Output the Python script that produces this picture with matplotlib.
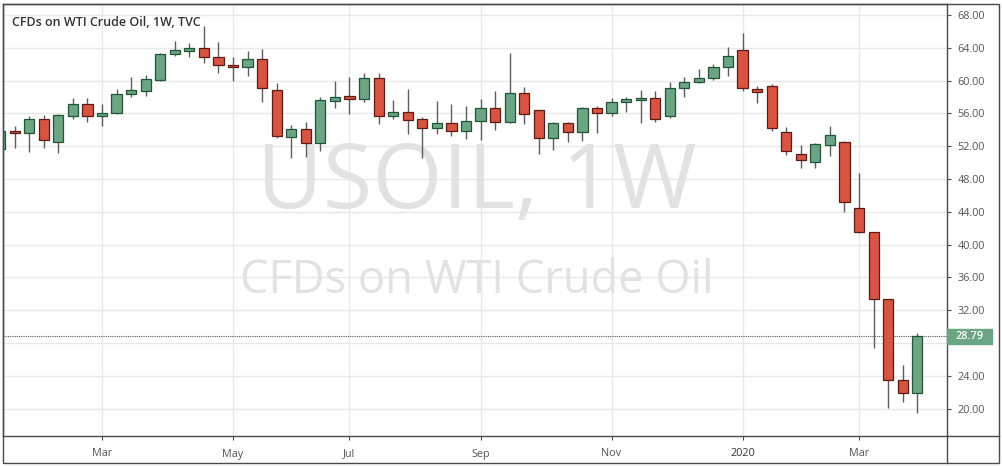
import numpy as np
import matplotlib
matplotlib.use("Agg")
import matplotlib.pyplot as plt
from matplotlib.patches import Rectangle
from matplotlib.lines import Line2D

# weekly USOIL candles, Jan 14 2019 .. Mar 30 2020
opens = [51.6, 53.8, 53.6, 55.3, 52.55, 55.7, 57.1, 55.72, 56.0, 58.33,
         58.77, 60.1, 63.2, 63.65, 63.94, 62.84, 61.9, 61.62, 62.6, 58.85,
         53.15, 54.1, 52.42, 57.55, 58.08, 57.72, 60.28, 55.72, 56.13, 55.31,
         54.18, 54.78, 53.8, 55.03, 56.62, 54.9, 58.45, 56.37, 52.96, 54.78,
         53.68, 56.62, 56.0, 57.35, 57.6, 57.84, 55.72, 59.06, 59.79, 60.28,
         61.62, 63.73, 58.97, 59.34, 53.68, 51.04, 50.1, 52.2, 52.47, 44.42,
         41.49, 33.36, 23.44, 21.85]
highs = [54.0, 54.4, 55.7, 55.8, 55.9, 57.9, 57.9, 57.1, 59.0, 60.4,
         60.7, 63.4, 64.8, 64.6, 66.6, 64.75, 62.9, 63.65, 63.85, 59.74,
         54.6, 54.9, 58.03, 60.0, 60.4, 60.96, 60.96, 57.63, 58.93, 55.6,
         57.55, 57.14, 56.94, 57.75, 58.77, 63.4, 59.18, 56.4, 54.9, 54.9,
         56.74, 56.9, 57.9, 58.03, 58.85, 58.77, 59.79, 60.4, 61.41, 62.02,
         64.1, 65.77, 59.34, 59.58, 54.38, 52.14, 52.42, 54.5, 52.6, 48.77,
         41.5, 33.4, 25.31, 29.17]
lows = [51.3, 51.8, 51.3, 51.8, 51.2, 55.3, 55.0, 54.5, 55.9, 58.0,
        58.1, 60.0, 63.05, 62.9, 62.2, 60.9, 60.0, 60.6, 57.35, 53.03,
        50.6, 50.64, 51.45, 56.7, 55.96, 57.35, 54.74, 55.31, 53.48, 50.5,
        53.48, 53.28, 52.9, 52.79, 54.0, 54.85, 54.74, 51.0, 51.53, 52.47,
        52.63, 53.57, 55.72, 56.2, 54.86, 54.98, 55.4, 58.03, 59.7, 60.07,
        60.6, 58.73, 57.3, 53.89, 50.92, 49.38, 49.38, 50.84, 43.93, 41.37,
        27.42, 20.1, 20.83, 19.41]
closes = [53.8, 53.6, 55.3, 52.7, 55.8, 57.1, 55.7, 56.05, 58.33, 58.85,
          60.15, 63.24, 63.73, 63.94, 62.84, 61.86, 61.6, 62.6, 59.06, 53.28,
          54.1, 52.42, 57.63, 58.03, 57.72, 60.28, 55.72, 56.13, 55.15, 54.18,
          54.78, 53.8, 55.03, 56.62, 54.9, 58.45, 55.96, 52.96, 54.78, 53.68,
          56.62, 56.0, 57.35, 57.72, 57.84, 55.28, 59.06, 59.79, 60.28, 61.62,
          63.0, 59.13, 58.64, 54.18, 51.45, 50.35, 52.26, 53.36, 45.23, 41.49,
          33.36, 23.44, 21.85, 28.79]

tick_idx = [7, 16, 24, 33, 42, 51, 59]
tick_labels = ["Mar", "May", "Jul", "Sep", "Nov", "2020", "Mar"]
y_ticks = list(range(20, 69, 4))
last_price = 28.79

UP, DOWN = "#6ba583", "#d75442"
UP_EDGE, DOWN_EDGE = "#225437", "#5b1a13"
WICK = "#5d5d5f"
FONT = "Open Sans"

W, H = 1002, 466
fig = plt.figure(figsize=(W / 100, H / 100), dpi=100)
ax = fig.add_axes([3 / W, 30 / H, (946.7 - 3) / W, (436 - 4) / H])

x = np.arange(len(opens))
o = np.array(opens)
c = np.array(closes)
up = c >= o
body_lo = np.minimum(o, c)
body_h = np.maximum(np.abs(c - o), 0.15)

ax.vlines(x, lows, highs, color=WICK, lw=1, zorder=3)
ax.bar(x[up], body_h[up], bottom=body_lo[up], width=0.7,
       color=UP, edgecolor=UP_EDGE, lw=0.9, zorder=4)
ax.bar(x[~up], body_h[~up], bottom=body_lo[~up], width=0.7,
       color=DOWN, edgecolor=DOWN_EDGE, lw=0.9, zorder=4)

ax.set_xlim(0.2, 65.02)
ax.set_ylim(16.65, 69.34)

# watermark
ax.text(0.5017, 44.46, "USOIL, 1W", transform=ax.get_yaxis_transform(),
        ha="center", va="baseline", fontsize=65, family=FONT,
        color="#e2e2e2", zorder=1)
ax.text(0.5017, 34.09, "CFDs on WTI Crude Oil", transform=ax.get_yaxis_transform(),
        ha="center", va="baseline", fontsize=32.6, family=FONT,
        color="#e2e2e2", zorder=1)

# grid
ax.set_axisbelow(True)
ax.grid(True, color="#e8e8e8", lw=1, zorder=0)

ax.yaxis.tick_right()
ax.set_yticks(y_ticks)
# the 28.00 label sits under the last-price tag
ax.set_yticklabels(["" if v == 28 else f"{v:.2f}" for v in y_ticks])
ax.set_xticks(tick_idx)
ax.set_xticklabels(tick_labels)
ax.tick_params(axis="y", length=3, pad=5, labelsize=7.8, colors="#4a4a4a",
               labelfontfamily=FONT)
ax.tick_params(axis="x", length=3, pad=6, labelsize=7.8, colors="#4a4a4a",
               labelfontfamily=FONT)
for lbl in ax.get_xticklabels():
    lbl.set_color("#333333" if lbl.get_text() == "2020" else "#555555")
for lbl in ax.get_yticklabels():
    lbl.set_color("#555555")
for s in ax.spines.values():
    s.set_color("#4a4a4a")
    s.set_linewidth(1)

# last price line and label
ax.axhline(last_price, color="#555555", lw=0.8, ls=(0, (1, 1)), zorder=2)
tr = ax.get_yaxis_transform()
half = 7.5 / 8.198
ax.add_patch(Rectangle((1.0, last_price - half), 45 / 943.7, 2 * half,
                       transform=tr, color=UP, clip_on=False, zorder=5))
ax.text(1.0 + 22.5 / 943.7, last_price, f"{last_price:.2f}", transform=tr,
        ha="center", va="center", color="white", fontsize=7.8,
        family=FONT, fontweight="semibold", clip_on=False, zorder=6)

# title
fig.text(12 / W, (H - 26) / H, "CFDs on WTI Crude Oil, 1W, TVC",
         ha="left", va="baseline", fontsize=9, family=FONT,
         fontweight="semibold", color="#333333")

# outer frame and axis extensions
fig.add_artist(Rectangle((3 / W, 3 / H), (999 - 3) / W, (462 - 3) / H,
                         fill=False, ec="#4a4a4a", lw=1, transform=fig.transFigure))
fig.add_artist(Line2D([946.7 / W, 946.7 / W], [3 / H, 30 / H], color="#4a4a4a", lw=1))
fig.add_artist(Line2D([946.7 / W, 999 / W], [30 / H, 30 / H], color="#4a4a4a", lw=1))

fig.savefig("out.png", dpi=100, facecolor="white")
